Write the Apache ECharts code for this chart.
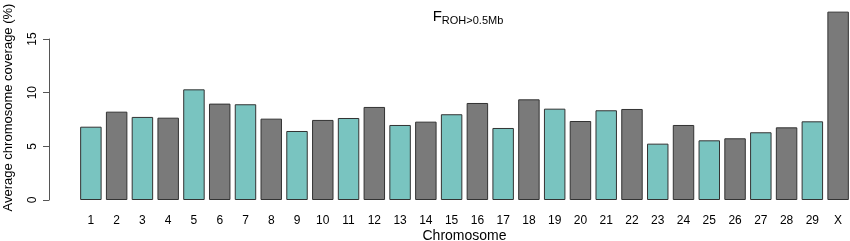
<!DOCTYPE html>
<html>
<head>
<meta charset="utf-8">
<script src="https://cdn.jsdelivr.net/npm/echarts@6/dist/echarts.min.js"></script>
<style>
  html, body { margin: 0; padding: 0; background: #fff; }
  #chart { width: 850px; height: 241px; }
</style>
</head>
<body>
<div id="chart"></div>
<script>
// chromosomes and average coverage (%)
var chromosomes = ['1','2','3','4','5','6','7','8','9','10','11','12','13','14','15',
  '16','17','18','19','20','21','22','23','24','25','26','27','28','29','X'];
var coverage = [6.83, 8.23, 7.74, 7.67, 10.31, 8.98, 8.92, 7.58, 6.43, 7.46,
  7.64, 8.67, 6.99, 7.30, 7.99, 9.04, 6.71, 9.38, 8.51, 7.36,
  8.36, 8.48, 5.25, 6.99, 5.56, 5.75, 6.31, 6.77, 7.33, 17.55];
var yTicks = [0, 5, 10, 15];

var teal = '#79c4c0';
var grey = '#7a7a7a';
var font = 'Liberation Sans, Arial, sans-serif';

var chart = echarts.init(document.getElementById('chart'));
chart.setOption({
  animation: false,
  title: {
    text: '{f|F}{s|ROH>0.5Mb}',
    left: 463,
    textAlign: 'center',
    top: 2,
    textStyle: {
      rich: {
        f: { fontFamily: font, fontSize: 15, fontWeight: 'normal', color: '#000' },
        s: { fontFamily: font, fontSize: 11, fontWeight: 'normal', color: '#000', padding: [8, 0, 0, 0] }
      }
    }
  },
  grid: { left: 78, right: -1, top: 39, bottom: 41, outerBoundsMode: 'none', containLabel: false },
  xAxis: {
    type: 'category',
    data: chromosomes,
    axisLine: { show: false },
    axisTick: { show: false },
    axisLabel: { color: '#000', fontFamily: font, fontSize: 12, margin: 15, interval: 0 },
    name: 'Chromosome',
    nameLocation: 'middle',
    nameGap: 29,
    nameMoveOverlap: false,
    nameTextStyle: { color: '#000', fontFamily: font, fontSize: 14 }
  },
  yAxis: {
    type: 'value',
    min: yTicks[0],
    max: yTicks[yTicks.length - 1],
    interval: 5,
    offset: 29,
    splitLine: { show: false },
    axisLine: { show: true, lineStyle: { color: '#555', width: 1 } },
    axisTick: { show: true, length: 6, lineStyle: { color: '#555' } },
    axisLabel: { color: '#000', fontFamily: font, fontSize: 12, rotate: 90, margin: 10 },
    name: 'Average chromosome coverage (%)',
    nameLocation: 'middle',
    nameGap: 34,
    nameMoveOverlap: false,
    nameTextStyle: { color: '#000', fontFamily: font, fontSize: 13, padding: [0, 0, 0, 24] }
  },
  series: [{
    type: 'bar',
    data: coverage.map(function (v, i) {
      return {
        value: v,
        itemStyle: { color: (i % 2 === 0 && i < 29) ? teal : grey }
      };
    }),
    barWidth: '83.3%',
    clip: false,
    itemStyle: { borderColor: '#333', borderWidth: 1 }
  }]
});
</script>
</body>
</html>
